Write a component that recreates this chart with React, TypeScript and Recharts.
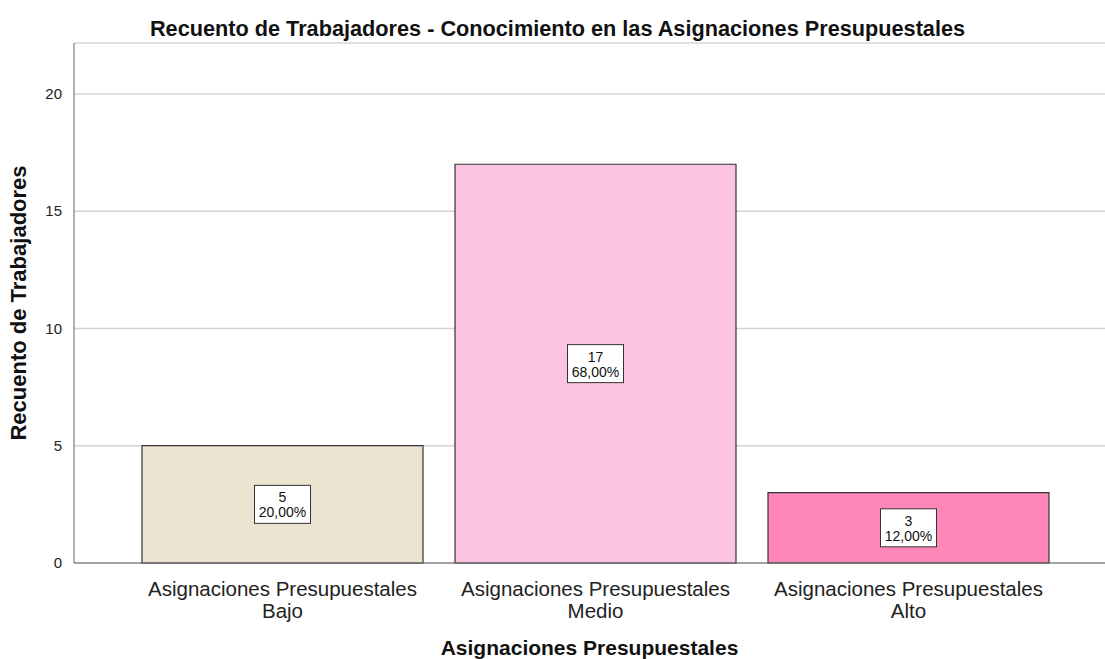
import { BarChart, Bar, XAxis, YAxis, CartesianGrid, Cell, LabelList, Label } from 'recharts';

const categories = ["Asignaciones Presupuestales Bajo", "Asignaciones Presupuestales Medio", "Asignaciones Presupuestales Alto"];
const counts = [5, 17, 3];
const percents = ["20,00%", "68,00%", "12,00%"];
const barColors = ["#ECE4D0", "#FDC3E2", "#FF87B8"];
const yTicks = [0, 5, 10, 15, 20];

const data = categories.map((c, i) => ({ name: c, count: counts[i], pct: percents[i] }));

const FONT = "'Liberation Sans', Arial, sans-serif";

function CategoryTick(props: any) {
    const { x, y, payload } = props;
    const s: string = payload.value;
    const cut = s.lastIndexOf(" ");
    return (
        <g transform={`translate(${x},${y})`}>
            <text textAnchor="middle" fontFamily={FONT} fontSize={20.5} fill="#222">
                <tspan x={0} dy={25}>{s.slice(0, cut)}</tspan>
                <tspan x={0} dy={21.5}>{s.slice(cut + 1)}</tspan>
            </text>
        </g>
    );
}

function BoxLabel(props: any) {
    const { x, y, width, height, index } = props;
    const cx = x + width / 2;
    const cy = y + height / 2;
    return (
        <g>
            <rect x={cx - 28} y={cy - 19} width={56} height={38} fill="#fff" stroke="#333" strokeWidth={1} />
            <text x={cx} y={cy - 2} textAnchor="middle" fontFamily={FONT} fontSize={14} fill="#111">{counts[index]}</text>
            <text x={cx} y={cy + 13} textAnchor="middle" fontFamily={FONT} fontSize={14} fill="#111">{percents[index]}</text>
        </g>
    );
}

export default function App() {
    return (
        <div style={{ position: "absolute", left: 0, top: 0, width: 1105, height: 659, background: "#fff" }}>
            <div style={{ position: "absolute", left: 0, top: 16, width: 1115, textAlign: "center", fontFamily: FONT, fontWeight: "bold", fontSize: 21.7, color: "#111" }}>
                Recuento de Trabajadores - Conocimiento en las Asignaciones Presupuestales
            </div>
            <BarChart width={1105} height={659} data={data} margin={{ top: 43, right: 0, bottom: 0, left: 0 }} barSize={281}>
                <CartesianGrid vertical={false} stroke="#d4d4d4" strokeWidth={1.5} />
                <XAxis dataKey="name" tick={<CategoryTick />} tickLine={false} axisLine={{ stroke: "#666" }} height={96} padding={{ left: 52, right: 40 }} interval={0}>
                    <Label value="Asignaciones Presupuestales" position="insideBottom" offset={4} style={{ fontFamily: FONT, fontWeight: "bold", fontSize: 21, fill: "#111" }} />
                </XAxis>
                <YAxis domain={[0, 22.17]} ticks={yTicks} width={74} tickLine={false} axisLine={{ stroke: "#666" }} tick={{ fontFamily: FONT, fontSize: 15, fill: "#222" }} tickMargin={6}>
                    <Label value="Recuento de Trabajadores" angle={-90} position="insideLeft" offset={18} style={{ textAnchor: "middle", fontFamily: FONT, fontWeight: "bold", fontSize: 22, fill: "#111" }} />
                </YAxis>
                <Bar dataKey="count" stroke="#333" strokeWidth={1.2} isAnimationActive={false}>
                    {data.map((d, i) => <Cell key={d.name} fill={barColors[i]} />)}
                    <LabelList dataKey="count" content={<BoxLabel />} />
                </Bar>
            </BarChart>
        </div>
    );
}
